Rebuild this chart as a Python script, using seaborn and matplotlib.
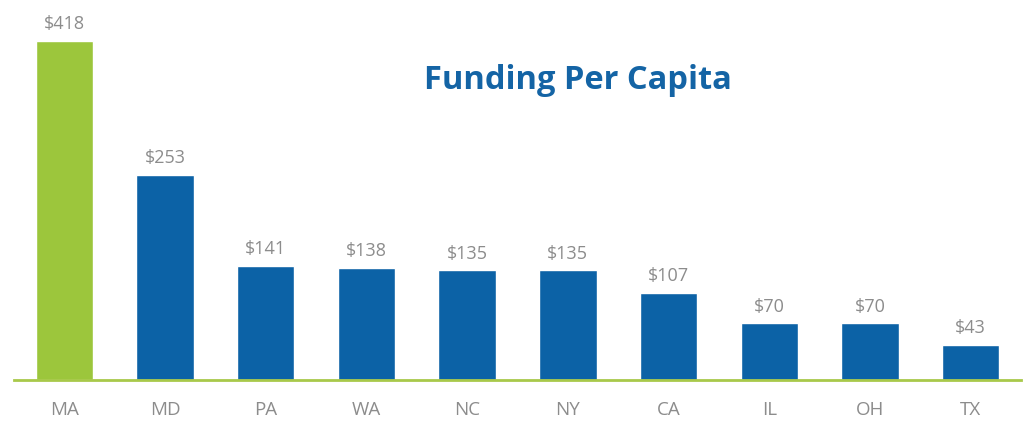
import matplotlib
matplotlib.use("Agg")
import matplotlib.pyplot as plt
import seaborn as sns
import pandas as pd

states = ["MA", "MD", "PA", "WA", "NC", "NY", "CA", "IL", "OH", "TX"]
funding = [418, 253, 141, 138, 135, 135, 107, 70, 70, 43]
labels = ["$418", "$253", "$141", "$138", "$135", "$135", "$107", "$70", "$70", "$43"]

GREEN = "#9cc63c"
BLUE = "#0c62a6"
GRAY = "#8c8c8c"

sns.set_theme(style="white")
plt.rcParams["font.family"] = ["Open Sans", "DejaVu Sans"]

df = pd.DataFrame({"state": states, "funding": funding})
palette = {s: (GREEN if i == 0 else BLUE) for i, s in enumerate(states)}

fig = plt.figure(figsize=(10.26, 4.22), dpi=100)
ax = fig.add_axes([0.0136, 0.0995, 0.9815, 0.9005])
sns.barplot(data=df, x="state", y="funding", hue="state", palette=palette,
            width=0.57, legend=False, ax=ax, saturation=1)

for i, (v, lab) in enumerate(zip(funding, labels)):
    ax.annotate(lab, (i, v), xytext=(0, 5.5), textcoords="offset points",
                ha="center", va="bottom", color=GRAY, fontsize=13)

ax.set_xlim(-0.5, 9.5)
ax.set_ylim(0, 468)
for s in ["top", "right", "left"]:
    ax.spines[s].set_visible(False)
ax.spines["bottom"].set_color("#a8c94a")
ax.spines["bottom"].set_linewidth(2)
ax.set_yticks([])
ax.set_xlabel("")
ax.set_ylabel("")
ax.tick_params(axis="x", length=0, pad=15, labelsize=13.5, labelcolor=GRAY)

fig.text(0.563, 0.81, "Funding Per Capita", ha="center", va="center",
         color="#1464a5", fontsize=23.5, fontweight="bold")

fig.savefig("out.png", dpi=100)
